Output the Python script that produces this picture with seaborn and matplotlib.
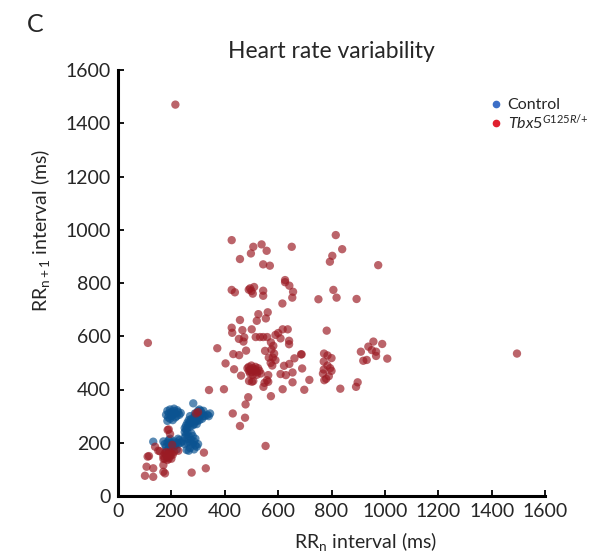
import matplotlib
matplotlib.use("Agg")
import matplotlib.pyplot as plt
import seaborn as sns
import pandas as pd
from matplotlib.lines import Line2D

# ---------------- data ----------------
ctrl_x = [185, 190, 195, 200, 205, 210, 215, 220, 225, 230, 188, 195, 205, 215, 200, 185, 210, 222, 235, 180,
          250, 255, 260, 255, 265, 270, 275, 280, 285, 290, 295, 300, 305, 310, 300, 290, 285, 275, 270, 265,
          260, 280, 295, 305, 315, 320, 310, 300, 295, 325, 335, 345, 340, 315, 250, 260, 282, 270, 288, 305,
          318, 298,
          170, 175, 180, 185, 190, 195, 200, 205, 210, 215, 220, 225, 230, 235, 240, 200, 190, 210, 220, 180,
          132, 195, 225,
          250, 255, 260, 265, 270, 275, 280, 285, 290, 295, 270, 265, 257, 280, 260, 250, 275, 290, 300, 285]
ctrl_y = [320, 310, 325, 315, 305, 320, 310, 300, 315, 305, 295, 290, 285, 295, 300, 282, 328, 322, 312, 305,
          240, 250, 255, 265, 270, 260, 275, 285, 270, 280, 290, 295, 300, 305, 310, 300, 295, 290, 280, 285,
          275, 265, 270, 285, 310, 320, 320, 320, 310, 300, 305, 310, 300, 290, 255, 240, 348, 300, 310, 325,
          300, 282,
          205, 195, 185, 200, 210, 190, 200, 195, 205, 190, 200, 195, 210, 200, 205, 180, 180, 185, 175, 170,
          204, 215, 215,
          220, 230, 215, 225, 200, 210, 195, 205, 190, 185, 180, 170, 173, 225, 200, 195, 235, 215, 195, 175]

mut_x = [112, 215,
         101, 107, 132, 132, 170, 170, 176, 111, 116, 139, 151, 157,
         170, 175, 180, 185, 190, 195, 200, 205, 175, 185, 180, 195, 190, 200, 170,
         210, 226, 203, 186, 195, 190, 322, 329, 276, 292, 300, 341, 397, 430, 457,
         426, 816, 507, 538, 557, 498, 457, 651, 840, 803, 794, 544, 569, 975,
         626, 626, 642, 656, 653, 426, 438, 495, 500, 505, 490, 510, 544, 544, 616, 751, 807, 819, 894,
         457, 526, 561, 554, 520, 426, 428, 466, 501, 617, 636, 600, 590, 782,
         453, 473, 470, 516, 532, 544, 559, 573, 582, 609, 641, 641,
         372, 480, 551, 575, 585, 580, 590, 432, 454, 403, 565, 572, 578, 661, 686, 642, 622,
         435, 461,
         485, 490, 495, 500, 505, 510, 515, 520, 525, 530, 495, 505, 515, 490, 500, 520, 535,
         502, 545, 563, 563, 609, 629, 654, 654, 690, 717,
         772, 785, 800, 771, 785, 795, 800, 771, 780, 768, 790,
         898, 892, 910, 938, 957, 951, 967, 990, 967, 1009, 919, 932,
         1495, 698, 833, 688,
         553, 476, 478, 488, 573,
         491, 507, 549, 558, 617, 773]
mut_y = [575, 1470,
         76, 110, 104, 72, 116, 91, 85, 148, 150, 185, 170, 168,
         150, 140, 155, 145, 160, 150, 140, 155, 160, 135, 165, 165, 140, 160, 140,
         166, 170, 192, 248, 233, 250, 163, 104, 88, 310, 315, 398, 401, 310, 263,
         961, 980, 936, 945, 921, 911, 890, 936, 927, 902, 880, 870, 865, 867,
         811, 803, 790, 767, 745, 774, 765, 780, 770, 760, 775, 785, 771, 752, 723, 739, 774, 745, 740,
         661, 683, 690, 667, 658, 632, 613, 623, 626, 626, 626, 612, 605, 621,
         590, 596, 580, 597, 597, 597, 597, 577, 564, 592, 583, 570,
         555, 546, 545, 550, 535, 520, 510, 533, 529, 498, 520, 500, 490, 517, 532, 496, 489,
         476, 452,
         480, 470, 475, 465, 480, 470, 475, 465, 480, 470, 460, 455, 485, 485, 490, 455, 460,
         429, 410, 454, 429, 458, 454, 464, 427, 479, 436,
         535, 528, 518, 505, 490, 480, 470, 475, 440, 460, 450,
         427, 410, 542, 561, 580, 548, 542, 571, 526, 516, 508, 511,
         535, 399, 403, 532,
         188, 294, 344, 371, 375,
         432, 432, 425, 435, 401, 435]

groups = ["Control", "Tbx5"]
x_ticks = [0, 200, 400, 600, 800, 1000, 1200, 1400, 1600]
y_ticks = [0, 200, 400, 600, 800, 1000, 1200, 1400, 1600]

df = pd.DataFrame({
    "x": ctrl_x + mut_x,
    "y": ctrl_y + mut_y,
    "group": [groups[0]] * len(ctrl_x) + [groups[1]] * len(mut_x),
})

# ---------------- styling ----------------
sns.set_style("ticks")
plt.rcParams["font.family"] = ["Lato", "DejaVu Sans"]
plt.rcParams["mathtext.fontset"] = "custom"
plt.rcParams["mathtext.rm"] = "Lato"
plt.rcParams["mathtext.it"] = "Lato:italic"
plt.rcParams["mathtext.default"] = "regular"

W, H = 589, 559
fig = plt.figure(figsize=(W / 100, H / 100), dpi=100)
ax = fig.add_axes([118 / W, 1 - 496 / H, 427 / W, 426 / H])

sns.scatterplot(data=df, x="x", y="y", hue="group",
                palette={"Control": "#0b5391", "Tbx5": "#9b1b24"},
                hue_order=groups, s=36, alpha=0.68, linewidth=0,
                legend=False, ax=ax)

ax.set_xlim(0, 1600)
ax.set_ylim(0, 1600)
ax.set_xticks(x_ticks)
ax.set_yticks(y_ticks)
ax.tick_params(axis="both", labelsize=14, length=4, width=1.3, color="black",
               direction="in", pad=5)
for side in ["left", "bottom"]:
    ax.spines[side].set_linewidth(2.2)
    ax.spines[side].set_color("black")
sns.despine(ax=ax)

ax.set_xlabel("")
ax.set_ylabel("")
fig.text(366 / W, 1 - 548 / H, "RR$_{n}$ interval (ms)", fontsize=14,
         ha="center", va="baseline")
fig.text(47 / W, 1 - 230 / H, "RR$_{n+1}$ interval (ms)", fontsize=14,
         ha="center", va="baseline", rotation=90, rotation_mode="anchor")
ax.set_title("Heart rate variability", fontsize=16.5, pad=9)

fig.text(35 / W, 1 - 24 / H, "C", fontsize=18, ha="center", va="center")

handles = [
    Line2D([], [], marker="o", linestyle="", color="#3c6fc7", markersize=4.5),
    Line2D([], [], marker="o", linestyle="", color="#e0202f", markersize=4.5),
]
labels = ["Control", r"$\mathit{Tbx5}^{\mathit{G125R/{+}}}$"]
ax.legend(handles, labels, loc="upper left", bbox_to_anchor=(0.866, 0.934),
          frameon=False, fontsize=11.5, handletextpad=0.25, labelspacing=0.0,
          handlelength=1.0, borderaxespad=0, borderpad=0)

fig.savefig("out.png", dpi=100)
